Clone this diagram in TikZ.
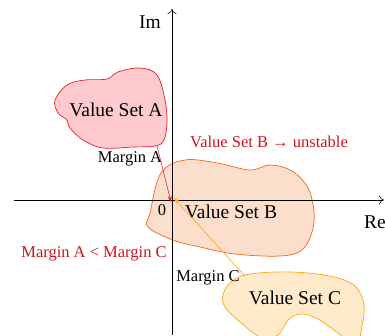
\documentclass[tikz,border=0pt]{standalone}
\usepackage{fontspec}
\setmainfont{Liberation Serif}
\usepackage{xcolor}
\usetikzlibrary{arrows.meta,positioning}

\definecolor{setAline}{RGB}{240,30,40}
\definecolor{setAfill}{RGB}{255,202,205}
\definecolor{setBline}{RGB}{250,100,20}
\definecolor{setBfill}{RGB}{252,222,205}
\definecolor{setCline}{RGB}{255,165,20}
\definecolor{setCfill}{RGB}{255,234,204}
\definecolor{note}{RGB}{205,20,30}

\begin{document}
\begin{tikzpicture}[
    x=1pt, y=-1pt,
    axis/.style={-{To[length=5pt,width=9pt]}, line width=0.6pt},
    blob/.style={line width=0.7pt},
    bigtext/.style={font=\fontsize{19.5}{22}\selectfont, inner sep=0pt},
    smalltext/.style={font=\fontsize{16.5}{19}\selectfont, inner sep=0pt},
    margin/.style={-{Stealth[length=6pt,width=4pt]}, line width=0.6pt}]
    \clip (0,0) rectangle (385,335);
    % value sets
    \draw[blob, draw=setBline, fill=setBfill] plot[smooth cycle, tension=0.6] coordinates {
        (150,213) (161,173) (185,160) (217,163) (250,170) (270,165) (292,171)
        (308,188) (314,212) (312,232) (302,250) (280,256) (235,254) (200,247)
        (173,240) (148,227)};
    \draw[blob, draw=setAline, fill=setAfill] plot[smooth cycle, tension=0.6] coordinates {
        (55,100) (67,85) (85,80) (107,79) (118,72) (140,68) (157,75) (165,100)
        (167,122) (164,140) (155,146) (133,147) (103,148) (83,140) (70,128)
        (67,120) (58,113)};
    \draw[blob, draw=setCline, fill=setCfill] plot[smooth cycle, tension=0.6] coordinates {
        (245,275) (275,272) (308,273) (338,278) (356,287) (364,305) (362,326)
        (356,345) (338,333) (318,319) (302,314) (289,319) (278,335) (262,338)
        (240,322) (225,307) (223,295) (230,283)};
    % axes
    \coordinate (O) at (172,200);
    \coordinate (reEnd) at (384,200);
    \coordinate (imEnd) at (172,9);
    \draw[axis] (14,200) -- (reEnd);
    \draw[axis] (172,335) -- (imEnd);
    \node[bigtext] (im) at (150,22) {Im};
    \node[bigtext] (re) at (375,222) {Re};
    \node[smalltext] (zero) at (162,210) {0};
    % labels
    \node[bigtext] (setA) at (116,110) {Value Set A};
    \node[bigtext] (setB) at (231,212) {Value Set B};
    \node[bigtext] (setC) at (295,298) {Value Set C};
    \node[smalltext] (marginA) at (130,159) {Margin A};
    \node[smalltext] (marginC) at (208,278) {Margin C};
    \node[smalltext, text=note] (unstable) at (269,142) {Value Set B → unstable};
    \node[smalltext, text=note] (compare) at (94,254) {Margin A < Margin C};
    % margins
    \coordinate (edgeA) at (157,146);
    \coordinate (edgeC) at (245,276);
    \draw[margin, setAline] (edgeA) -- ([xshift=-1pt,yshift=-2pt]O);
    \draw[margin, setCline] (edgeC) -- ([xshift=2pt,yshift=2pt]O);
\end{tikzpicture}
\end{document}
